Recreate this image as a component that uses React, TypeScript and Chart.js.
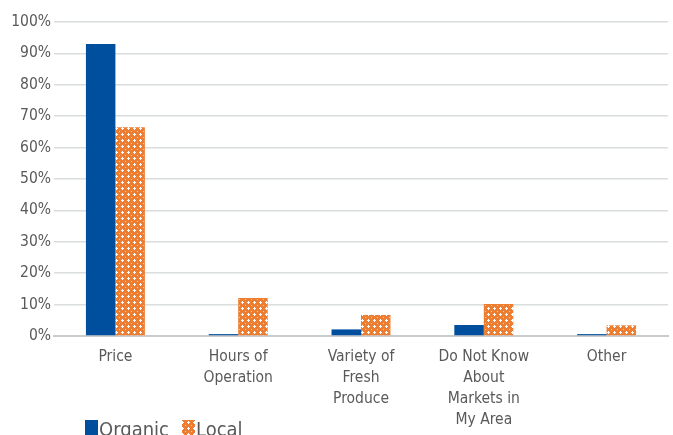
import React, { useEffect, useRef } from "react";
import { Chart, registerables } from "chart.js";

Chart.register(...registerables);

const categories: string[][] = [
  ["Price"],
  ["Hours of", "Operation"],
  ["Variety of", "Fresh", "Produce"],
  ["Do Not Know", "About", "Markets in", "My Area"],
  ["Other"],
];
const organicValues = [93, 0.6, 2.1, 3.5, 0.6];
const localValues = [66.5, 12.1, 6.7, 10.2, 3.4];
const seriesNames = ["Organic", "Local"];

const BLUE = "#004F9F";
const ORANGE = "#ED7D31";
const TEXT = "#595959";
const FONT = "'DejaVu Sans Condensed', 'Liberation Sans Narrow', sans-serif";

function makePattern(): CanvasPattern | string {
  const c = document.createElement("canvas");
  c.width = 6;
  c.height = 6;
  const g = c.getContext("2d");
  if (!g) return ORANGE;
  g.fillStyle = ORANGE;
  g.fillRect(0, 0, 6, 6);
  g.fillStyle = "#ffffff";
  g.fillRect(2, 1, 1, 3);
  g.fillRect(1, 2, 3, 1);
  g.fillStyle = "rgba(255,255,255,0.6)";
  g.fillRect(5, 5, 1, 1);
  const p = g.createPattern(c, "repeat");
  return p || ORANGE;
}

export default function App() {
  const ref = useRef<HTMLCanvasElement | null>(null);

  useEffect(() => {
    if (!ref.current) return;
    const pattern = makePattern();

    const legendPlugin = {
      id: "customLegend",
      afterDraw(chart: any) {
        const ctx = chart.ctx as CanvasRenderingContext2D;
        ctx.save();
        ctx.font = `20px ${FONT}`;
        ctx.textBaseline = "alphabetic";
        ctx.textAlign = "left";
        const items = [
          { name: seriesNames[0], fill: BLUE as any, x: 85 },
          { name: seriesNames[1], fill: pattern as any, x: 182 },
        ];
        for (const it of items) {
          ctx.fillStyle = it.fill;
          ctx.fillRect(it.x, 420, 13, 16);
          ctx.fillStyle = TEXT;
          ctx.fillText(it.name, it.x + 14, 436);
        }
        ctx.restore();
      },
    };

    const chart = new Chart(ref.current, {
      type: "bar",
      data: {
        labels: categories as any,
        datasets: [
          {
            label: seriesNames[0],
            data: organicValues,
            backgroundColor: BLUE,
            borderWidth: 0,
          },
          {
            label: seriesNames[1],
            data: localValues,
            backgroundColor: pattern as any,
            borderWidth: 0,
          },
        ],
      },
      options: {
        animation: false,
        responsive: false,
        maintainAspectRatio: false,
        layout: { padding: { top: 22, right: 5, bottom: 0, left: 0 } },
        plugins: {
          legend: { display: false },
          tooltip: { enabled: false },
        },
        datasets: {
          bar: { categoryPercentage: 0.48, barPercentage: 1 },
        },
        scales: {
          x: {
            grid: { display: false, drawTicks: false },
            border: { display: true, color: "#c9cccc", width: 2 },
            ticks: {
              color: TEXT,
              font: { family: FONT, size: 15.5, lineHeight: 1.34 },
              padding: 11,
              maxRotation: 0,
              autoSkip: false,
            },
            afterFit(scale: any) {
              scale.height = 99;
            },
          },
          y: {
            min: 0,
            max: 100,
            border: { display: false },
            grid: {
              color: "#dadddd",
              lineWidth: 1.5,
              drawTicks: false,
            },
            ticks: {
              stepSize: 10,
              color: TEXT,
              font: { family: FONT, size: 15.5 },
              padding: 3,
              callback: (v: any) => `${v}%`,
            },
            afterFit(scale: any) {
              scale.width = 54;
            },
          },
        },
      },
      plugins: [legendPlugin],
    });

    return () => chart.destroy();
  }, []);

  return (
    <div
      style={{
        position: "fixed",
        left: 0,
        top: 0,
        width: 673,
        height: 435,
        background: "#ffffff",
      }}
    >
      <canvas ref={ref} width={673} height={435} style={{ display: "block" }} />
    </div>
  );
}
